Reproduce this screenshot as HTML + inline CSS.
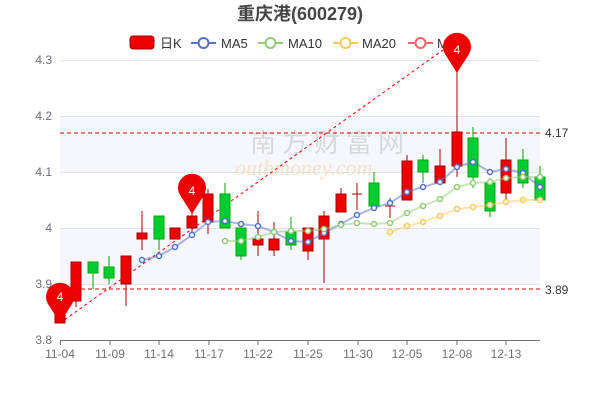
<!DOCTYPE html>
<html><head><meta charset="utf-8"><style>body{margin:0;background:#fff}svg{display:block}</style></head><body>
<svg width="600" height="400" xmlns="http://www.w3.org/2000/svg" font-family="Liberation Sans, Noto Sans CJK SC, sans-serif">
<text x="300" y="20" text-anchor="middle" font-size="18" font-weight="bold" fill="#464646" font-family="Liberation Sans, Noto Sans CJK SC, sans-serif">重庆港(600279)</text>
<!-- legend -->
<rect x="130" y="36" width="24" height="13" rx="3" fill="#e00" stroke="#a00"/>
<text x="160" y="48" font-size="13" fill="#333" font-family="Liberation Sans, Noto Sans CJK SC, sans-serif">日K</text>
<line x1="191" y1="43" x2="216" y2="43" stroke="#5470c6" stroke-width="2"/><circle cx="203.5" cy="43" r="5" fill="#fff" stroke="#5470c6" stroke-width="2"/>
<text x="221" y="48" font-size="13" fill="#333">MA5</text>
<line x1="258" y1="43" x2="283" y2="43" stroke="#91cc75" stroke-width="2"/><circle cx="270.5" cy="43" r="5" fill="#fff" stroke="#91cc75" stroke-width="2"/>
<text x="288" y="48" font-size="13" fill="#333">MA10</text>
<line x1="333" y1="43" x2="358" y2="43" stroke="#fac858" stroke-width="2"/><circle cx="345.5" cy="43" r="5" fill="#fff" stroke="#fac858" stroke-width="2"/>
<text x="362" y="48" font-size="13" fill="#333">MA20</text>
<line x1="408" y1="43" x2="433" y2="43" stroke="#ee6666" stroke-width="2"/><circle cx="420.5" cy="43" r="5" fill="#fff" stroke="#ee6666" stroke-width="2"/>
<text x="437" y="48" font-size="13" fill="#333">M</text>
<!-- bands -->
<rect x="60" y="116" width="480" height="56" fill="#f5f7fc"/>
<rect x="60" y="228" width="480" height="56" fill="#f5f7fc"/>
<g stroke="#e0e6f1" stroke-width="1">
<line x1="60" y1="60.5" x2="540" y2="60.5"/><line x1="60" y1="116.5" x2="540" y2="116.5"/><line x1="60" y1="172.5" x2="540" y2="172.5"/><line x1="60" y1="228.5" x2="540" y2="228.5"/><line x1="60" y1="284.5" x2="540" y2="284.5"/>
</g>
<line x1="60" y1="340.5" x2="540" y2="340.5" stroke="#6e7079"/>
<g stroke="#6e7079"><line x1="60.5" y1="340" x2="60.5" y2="345"/><line x1="110" y1="340" x2="110" y2="345"/><line x1="159" y1="340" x2="159" y2="345"/><line x1="209" y1="340" x2="209" y2="345"/><line x1="258" y1="340" x2="258" y2="345"/><line x1="308" y1="340" x2="308" y2="345"/><line x1="358" y1="340" x2="358" y2="345"/><line x1="407" y1="340" x2="407" y2="345"/><line x1="457" y1="340" x2="457" y2="345"/><line x1="506" y1="340" x2="506" y2="345"/></g>
<g font-size="12" fill="#6e7079" text-anchor="end">
<text x="52" y="64">4.3</text><text x="52" y="120">4.2</text><text x="52" y="176">4.1</text><text x="52" y="232">4</text><text x="52" y="288">3.9</text><text x="52" y="344">3.8</text></g>
<g font-size="12" fill="#6e7079" text-anchor="middle">
<text x="60" y="358">11-04</text><text x="110" y="358">11-09</text><text x="159" y="358">11-14</text><text x="209" y="358">11-17</text><text x="258" y="358">11-22</text><text x="308" y="358">11-25</text><text x="358" y="358">11-30</text><text x="407" y="358">12-05</text><text x="457" y="358">12-08</text><text x="506" y="358">12-13</text></g>
<!-- watermark -->
<text x="250" y="152" font-size="26" fill="#ccc" opacity="0.7" font-family="Noto Sans CJK SC, sans-serif" letter-spacing="6">南方财富网</text>
<text x="235" y="175" font-size="22" fill="#f5d9b0" opacity="0.7" font-style="italic" font-family="Liberation Serif, serif">outhmoney.com</text>
<!-- dashed -->
<line x1="60" y1="133" x2="540" y2="133" stroke="#d00" stroke-dasharray="4,3"/>
<line x1="60" y1="289" x2="540" y2="289" stroke="#d00" stroke-dasharray="4,3"/>
<line x1="60" y1="323" x2="457" y2="40" stroke="#e00" stroke-dasharray="3,3"/>
<text x="545" y="137" font-size="12" fill="#333">4.17</text>
<text x="545" y="294" font-size="12" fill="#333">3.89</text>
<!-- candles -->
<g stroke-width="1">
<g stroke="#a00" fill="#e00">
<line x1="76" y1="262" x2="76" y2="307"/><rect x="71" y="262" width="10" height="39"/>
<line x1="126" y1="256" x2="126" y2="306"/><rect x="121" y="256" width="10" height="28"/>
<line x1="142" y1="211" x2="142" y2="250"/><rect x="137" y="233" width="10" height="6"/>
<rect x="170" y="228" width="10" height="11"/>
<line x1="192" y1="210" x2="192" y2="232"/><rect x="187" y="216" width="10" height="12"/>
<line x1="208" y1="189" x2="208" y2="234"/><rect x="203" y="194" width="10" height="28"/>
<line x1="258" y1="211" x2="258" y2="256"/><rect x="253" y="239" width="10" height="6"/>
<line x1="274" y1="222" x2="274" y2="256"/><rect x="269" y="239" width="10" height="11"/>
<line x1="308" y1="228" x2="308" y2="260"/><rect x="303" y="228" width="10" height="23"/>
<line x1="324" y1="211" x2="324" y2="283"/><rect x="319" y="216" width="10" height="23"/>
<line x1="341" y1="188" x2="341" y2="212"/><rect x="336" y="194" width="10" height="18"/>
<line x1="357" y1="183" x2="357" y2="210"/><line x1="352" y1="194" x2="362" y2="194"/>
<line x1="390" y1="198" x2="390" y2="218"/><line x1="385" y1="206" x2="395" y2="206"/>
<line x1="407" y1="155" x2="407" y2="200"/><rect x="402" y="161" width="10" height="39"/>
<line x1="440" y1="149" x2="440" y2="183"/><rect x="435" y="166" width="10" height="17"/>
<line x1="457" y1="45" x2="457" y2="177"/><rect x="452" y="132" width="10" height="34"/>
<line x1="506" y1="138" x2="506" y2="200"/><rect x="501" y="160" width="10" height="33"/>
<rect x="55" y="300" width="10" height="23"/>
</g>
<g stroke="#0a0" fill="#0c3">
<line x1="93" y1="262" x2="93" y2="289"/><rect x="88" y="262" width="10" height="11"/>
<line x1="109" y1="256" x2="109" y2="284"/><rect x="104" y="267" width="10" height="11"/>
<line x1="159" y1="216" x2="159" y2="250"/><rect x="154" y="216" width="10" height="23"/>
<line x1="225" y1="183" x2="225" y2="228"/><rect x="220" y="194" width="10" height="34"/>
<line x1="241" y1="228" x2="241" y2="260"/><rect x="236" y="228" width="10" height="28"/>
<line x1="291" y1="217" x2="291" y2="250"/><rect x="286" y="232" width="10" height="13"/>
<line x1="374" y1="172" x2="374" y2="206"/><rect x="369" y="183" width="10" height="23"/>
<line x1="423" y1="155" x2="423" y2="183"/><rect x="418" y="160" width="10" height="12"/>
<line x1="473" y1="127" x2="473" y2="188"/><rect x="468" y="138" width="10" height="39"/>
<line x1="490" y1="178" x2="490" y2="217"/><rect x="485" y="183" width="10" height="28"/>
<line x1="523" y1="149" x2="523" y2="188"/><rect x="518" y="160" width="10" height="23"/>
<line x1="540" y1="166" x2="540" y2="200"/><rect x="535" y="177" width="10" height="23"/>
</g></g>
<!-- MA lines -->
<polyline fill="none" stroke="#5470c6" stroke-width="2" opacity="0.5" points="142,260 159,256 175,247 192,235 208,222 225,221 241,224 258,226 274,232 291,241 308,242 324,233 341,224 357,215 374,208 390,203 407,192 423,187 440,182 457,167 473,162 490,172 506,169 523,173 540,187"/>
<polyline fill="none" stroke="#91cc75" stroke-width="2" opacity="0.5" points="225,241 241,241 258,237 274,232 291,231 308,231 324,229 341,225 357,223 374,224 390,223 407,213 423,206 440,199 457,187 473,183 490,182 506,178 523,177 540,177"/>
<polyline fill="none" stroke="#fac858" stroke-width="2" opacity="0.5" points="390,232 407,226 423,222 440,216 457,209 473,207 490,205 506,202 523,200 540,200"/>
<g fill="#fff" stroke="#5470c6" stroke-width="1.5">
<circle cx="142" cy="260" r="2.5"/><circle cx="159" cy="256" r="2.5"/><circle cx="175" cy="247" r="2.5"/><circle cx="192" cy="235" r="2.5"/><circle cx="208" cy="222" r="2.5"/><circle cx="225" cy="221" r="2.5"/><circle cx="241" cy="224" r="2.5"/><circle cx="258" cy="226" r="2.5"/><circle cx="274" cy="232" r="2.5"/><circle cx="291" cy="241" r="2.5"/><circle cx="308" cy="242" r="2.5"/><circle cx="324" cy="233" r="2.5"/><circle cx="341" cy="224" r="2.5"/><circle cx="357" cy="215" r="2.5"/><circle cx="374" cy="208" r="2.5"/><circle cx="390" cy="203" r="2.5"/><circle cx="407" cy="192" r="2.5"/><circle cx="423" cy="187" r="2.5"/><circle cx="440" cy="182" r="2.5"/><circle cx="457" cy="167" r="2.5"/><circle cx="473" cy="162" r="2.5"/><circle cx="490" cy="172" r="2.5"/><circle cx="506" cy="169" r="2.5"/><circle cx="523" cy="173" r="2.5"/><circle cx="540" cy="187" r="2.5"/></g>
<g fill="#fff" stroke="#91cc75" stroke-width="1.5">
<circle cx="225" cy="241" r="2.5"/><circle cx="241" cy="241" r="2.5"/><circle cx="258" cy="237" r="2.5"/><circle cx="274" cy="232" r="2.5"/><circle cx="291" cy="231" r="2.5"/><circle cx="308" cy="231" r="2.5"/><circle cx="324" cy="229" r="2.5"/><circle cx="341" cy="225" r="2.5"/><circle cx="357" cy="223" r="2.5"/><circle cx="374" cy="224" r="2.5"/><circle cx="390" cy="223" r="2.5"/><circle cx="407" cy="213" r="2.5"/><circle cx="423" cy="206" r="2.5"/><circle cx="440" cy="199" r="2.5"/><circle cx="457" cy="187" r="2.5"/><circle cx="473" cy="183" r="2.5"/><circle cx="490" cy="182" r="2.5"/><circle cx="506" cy="178" r="2.5"/><circle cx="523" cy="177" r="2.5"/><circle cx="540" cy="177" r="2.5"/></g>
<g fill="#fff" stroke="#fac858" stroke-width="1.5">
<circle cx="390" cy="232" r="2.5"/><circle cx="407" cy="226" r="2.5"/><circle cx="423" cy="222" r="2.5"/><circle cx="440" cy="216" r="2.5"/><circle cx="457" cy="209" r="2.5"/><circle cx="473" cy="207" r="2.5"/><circle cx="490" cy="205" r="2.5"/><circle cx="506" cy="202" r="2.5"/><circle cx="523" cy="200" r="2.5"/><circle cx="540" cy="200" r="2.5"/></g>
<!-- pins -->
<g fill="#e00">
<path d="M60,323 L48,304 A14,14 0 1 1 72,304 Z"/>
<path d="M192,214 L180,195 A14,14 0 1 1 204,195 Z"/>
<path d="M457,73 L445,54 A14,14 0 1 1 469,54 Z"/>
</g>
<g fill="#fff" font-size="12" text-anchor="middle">
<text x="60" y="301">4</text><text x="192" y="195">4</text><text x="457" y="54">4</text></g>
</svg>
</body></html>
